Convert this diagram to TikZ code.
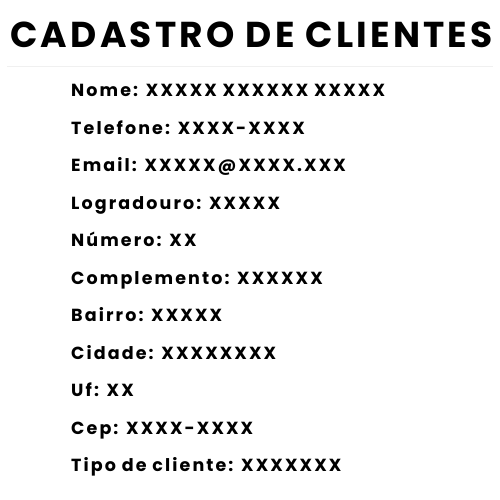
\documentclass[tikz,border=0pt]{standalone}
\usepackage{fontspec}
\setmainfont{Poppins}
\newfontfamily\titlefont{Poppins}[LetterSpace=9]
\newfontfamily\bodyfont{Poppins}[LetterSpace=12]
\begin{document}
\begin{tikzpicture}[x=1pt,y=-1pt,
  title/.style={inner sep=0pt,anchor=base,font=\titlefont\fontsize{36}{40}\selectfont\bfseries},
  field/.style={inner sep=0pt,anchor=base west,font=\bodyfont\fontsize{17.5}{20}\selectfont\bfseries}]
\useasboundingbox[fill=white] (0,0) rectangle (500,500);
\node[title] (t) at (251.5,47.7) {CADASTRO DE CLIENTES};
\coordinate (la) at (7,66.5);
\coordinate (lb) at (493,66.5);
\draw[black!6,line width=1pt] (la) -- (lb);
\node[field] (f1) at (71,96.5) {Nome: XXXXX XXXXXX XXXXX};
\node[field] (f2) at (71,134) {Telefone: XXXX-XXXX};
\node[field] (f3) at (71,171.5) {Email: XXXXX@XXXX.XXX};
\node[field] (f4) at (71,209) {Logradouro: XXXXX};
\node[field] (f5) at (71,246.5) {Número: XX};
\node[field] (f6) at (71,284) {Complemento: XXXXXX};
\node[field] (f7) at (71,321.5) {Bairro: XXXXX};
\node[field] (f8) at (71,359) {Cidade: XXXXXXXX};
\node[field] (f9) at (71,396.5) {Uf: XX};
\node[field] (f10) at (71,434) {Cep: XXXX-XXXX};
\node[field] (f11) at (71,471.5) {Tipo de cliente: XXXXXXX};
\end{tikzpicture}
\end{document}
